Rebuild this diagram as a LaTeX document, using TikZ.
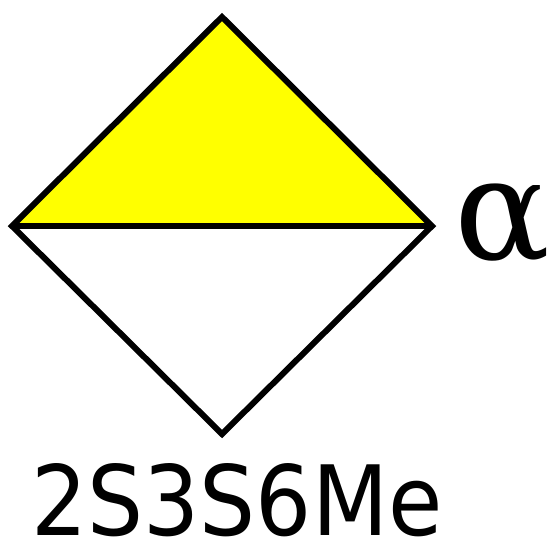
\documentclass[tikz,border=0pt]{standalone}
\usepackage{fontspec}
\setmainfont{DejaVu Sans}
\newfontfamily\anomerfont{DejaVu Serif}
\usetikzlibrary{positioning}
\definecolor{symyellow}{HTML}{FFFF00}

\begin{document}
\begin{tikzpicture}[x=0.5pt,y=-0.5pt,line join=miter]
\useasboundingbox (0,0) rectangle (560,543);
\coordinate (top) at (222,17);
\coordinate (lft) at (12,226);
\coordinate (rgt) at (432,226);
\coordinate (bot) at (222,434);
\fill[symyellow] (top) -- (rgt) -- (lft) -- cycle;
\draw[line width=3pt] (top) -- (rgt) -- (bot) -- (lft) -- cycle;
\draw[line width=3pt] (lft) -- (rgt);
\node[anchor=base west,inner sep=0pt] (anomer) at (454,259) {\anomerfont\fontsize{71}{71}\selectfont α};
\node[font=\fontsize{48.5}{48.5}\selectfont,anchor=base,inner sep=0pt,text depth=0pt,xscale=0.91] (name) at (237,535) {2S3S6Me};
\end{tikzpicture}
\end{document}
